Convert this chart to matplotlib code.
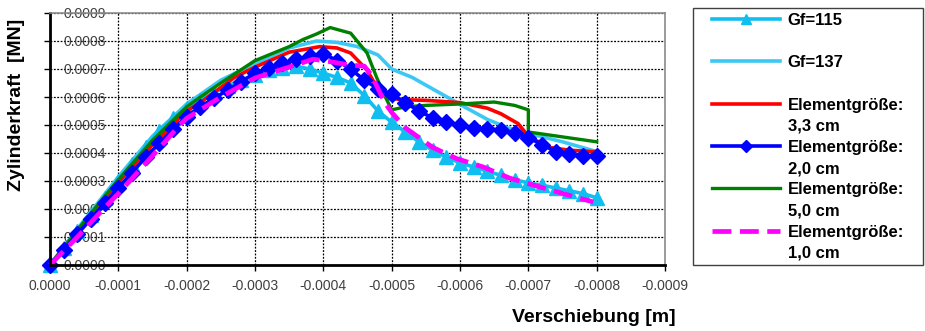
import numpy as np
import matplotlib
matplotlib.use("Agg")
import matplotlib.pyplot as plt
from matplotlib.lines import Line2D
from matplotlib.patches import Rectangle
from matplotlib.ticker import FormatStrFormatter

plt.rcParams['font.family'] = ['Liberation Sans', 'DejaVu Sans']

# displacement in 1e-4 m (plotted negative), force in 1e-4 MN
x_step = [0.0, 0.2, 0.4, 0.6, 0.8, 1.0, 1.2, 1.4, 1.6, 1.8, 2.0, 2.2, 2.4, 2.6,
          2.8, 3.0, 3.2, 3.4, 3.6, 3.8, 4.0, 4.2, 4.4, 4.6, 4.8, 5.0, 5.2, 5.4,
          5.6, 5.8, 6.0, 6.2, 6.4, 6.6, 6.8, 7.0, 7.2, 7.4, 7.6, 7.8, 8.0]

gf115 = [0.0, 0.6, 1.2, 1.8, 2.4, 3.0, 3.6, 4.2, 4.8, 5.25, 5.6, 5.9, 6.15, 6.4,
         6.6, 6.8, 6.95, 7.05, 7.1, 7.0, 6.85, 6.7, 6.5, 6.05, 5.5, 5.1, 4.75, 4.4,
         4.1, 3.85, 3.65, 3.5, 3.35, 3.2, 3.05, 2.93, 2.85, 2.75, 2.65, 2.55, 2.4]

el20 = [0.0, 0.55, 1.1, 1.65, 2.2, 2.75, 3.3, 3.85, 4.35, 4.85, 5.3, 5.65, 5.95, 6.25,
        6.55, 6.85, 7.05, 7.2, 7.35, 7.45, 7.55, 7.3, 7.0, 6.6, 6.3, 6.1, 5.8, 5.5,
        5.25, 5.1, 5.0, 4.9, 4.85, 4.82, 4.7, 4.55, 4.3, 4.05, 3.95, 3.9, 3.9]

x_gf137 = [0.0, 0.5, 1.0, 1.5, 2.0, 2.5, 3.0, 3.5, 3.9, 4.2, 4.5, 4.8, 5.0, 5.3,
           5.7, 6.1, 6.4, 6.7, 7.0, 7.5, 8.0]
gf137 = [0.0, 1.6, 3.15, 4.6, 5.75, 6.6, 7.2, 7.75, 8.0, 7.95, 7.8, 7.5, 7.0, 6.7,
         6.15, 5.6, 5.2, 4.9, 4.7, 4.4, 4.05]

x_el33 = [0.0, 0.5, 1.0, 1.5, 2.0, 2.2, 2.7, 3.0, 3.5, 3.95, 4.2, 4.4, 4.64, 4.78,
          4.93, 5.2, 5.5, 6.0, 6.4, 6.6, 6.85, 7.0, 7.3, 7.6, 8.0]
el33 = [0.0, 1.5, 2.95, 4.3, 5.5, 5.8, 6.7, 7.07, 7.6, 7.8, 7.75, 7.57, 6.96, 6.36,
        5.96, 5.9, 5.88, 5.8, 5.6, 5.4, 5.05, 4.6, 4.2, 4.1, 4.04]

x_el50 = [0.0, 0.5, 1.0, 1.5, 2.0, 2.2, 2.5, 3.0, 3.5, 3.7, 3.9, 4.1, 4.4, 4.64,
          4.78, 4.88, 5.0, 5.2, 5.5, 6.0, 6.5, 6.8, 7.0, 7.0, 8.0]
el50 = [0.0, 1.55, 3.05, 4.45, 5.65, 6.0, 6.5, 7.3, 7.8, 8.05, 8.25, 8.48, 8.28, 7.57,
        6.7, 6.14, 5.54, 5.65, 5.7, 5.75, 5.82, 5.7, 5.54, 4.75, 4.4]

x_el10 = [0.0, 0.4, 0.8, 1.0, 1.5, 1.9, 2.0, 2.5, 3.0, 3.5, 3.85, 4.0, 4.4, 4.6,
          4.7, 4.78, 4.9, 5.0, 5.2, 5.6, 5.95, 6.34, 6.73, 7.32, 7.95]
el10 = [0.0, 1.0, 2.05, 2.55, 3.9, 5.0, 5.24, 6.0, 6.68, 7.07, 7.35, 7.3, 7.14, 7.1,
        6.8, 6.4, 5.8, 5.45, 4.9, 4.2, 3.8, 3.5, 3.1, 2.68, 2.25]

legend_labels = ['Gf=115', ' ', 'Gf=137', ' ', 'Elementgröße:', '3,3 cm',
                 'Elementgröße:', '2,0 cm', 'Elementgröße:', '5,0 cm',
                 'Elementgröße:', '1,0 cm']
x_ticks = [0.0, -0.0001, -0.0002, -0.0003, -0.0004, -0.0005, -0.0006, -0.0007, -0.0008, -0.0009]
y_ticks = [0.0, 0.0001, 0.0002, 0.0003, 0.0004, 0.0005, 0.0006, 0.0007, 0.0008, 0.0009]


def to_m(v):
    return -np.array(v) * 1e-4


def to_mn(v):
    return np.array(v) * 1e-4


fig = plt.figure(figsize=(9.25, 3.31), dpi=100)
ax = fig.add_axes([50 / 925, 66 / 331, 615 / 925, 252 / 331])

l137, = ax.plot(to_m(x_gf137), to_mn(gf137), color='#3CC8F5', lw=2.6, clip_on=False)
l115, = ax.plot(to_m(x_step), to_mn(gf115), color='#10BEF0', lw=2.6, marker='^',
                markersize=9.5, clip_on=False)
l33, = ax.plot(to_m(x_el33), to_mn(el33), color='#FF0000', lw=2.6, clip_on=False)
l50, = ax.plot(to_m(x_el50), to_mn(el50), color='#008000', lw=2.4, clip_on=False)
l20, = ax.plot(to_m(x_step), to_mn(el20), color='#0000FF', lw=2.6, marker='D',
               markersize=8.5, clip_on=False)
l10, = ax.plot(to_m(x_el10), to_mn(el10), color='#FF00FF', lw=3.4, dashes=(4, 1.8),
               clip_on=False)

ax.set_xlim(0, -0.0009)
ax.set_ylim(0, 0.0009)
ax.set_xticks(x_ticks)
ax.set_yticks(y_ticks)
ax.xaxis.set_major_formatter(FormatStrFormatter('%.4f'))
ax.yaxis.set_major_formatter(FormatStrFormatter('%.4f'))
ax.grid(True, color='black', linestyle=(0, (1.5, 1.2)), lw=0.9)

ax.tick_params(axis='x', direction='out', length=4, width=1, pad=6,
               labelsize=10, labelcolor='#404040')
ax.tick_params(axis='y', direction='out', length=4, width=1, pad=-13.4,
               labelsize=10, labelcolor='#404040')
for lab in ax.get_yticklabels():
    lab.set_horizontalalignment('left')

for side in ['left', 'bottom']:
    ax.spines[side].set_color('black')
    ax.spines[side].set_linewidth(2)
for side in ['top', 'right']:
    ax.spines[side].set_color('#8c8c8c')
    ax.spines[side].set_linewidth(1.2)

fig.text(512 / 925, 1 - 318 / 331, 'Verschiebung [m]', fontsize=14,
         fontweight='bold', ha='left', va='center')
fig.text(17 / 925, 1 - 105 / 331, 'Zylinderkraft  [MN]', fontsize=14,
         fontweight='bold', rotation=90, ha='center', va='center')

blank = Line2D([], [], color='none')
handles = [l115, blank, l137, blank, l33, blank, l20, blank, l50, blank, l10, blank]
fig.legend(handles, legend_labels, loc='upper left',
           bbox_to_anchor=(712 / 925, 1 - 13 / 331), frameon=False,
           borderpad=0, borderaxespad=0, handlelength=4.1, handletextpad=0.45,
           labelspacing=0.37, numpoints=1, markerscale=0.7,
           prop={'weight': 'bold', 'size': 12})
fig.add_artist(Rectangle((693 / 925, 1 - 265 / 331), 230 / 925, 257 / 331,
                         transform=fig.transFigure, fill=False,
                         ec='#404040', lw=1))

fig.savefig('out.png', dpi=100)
